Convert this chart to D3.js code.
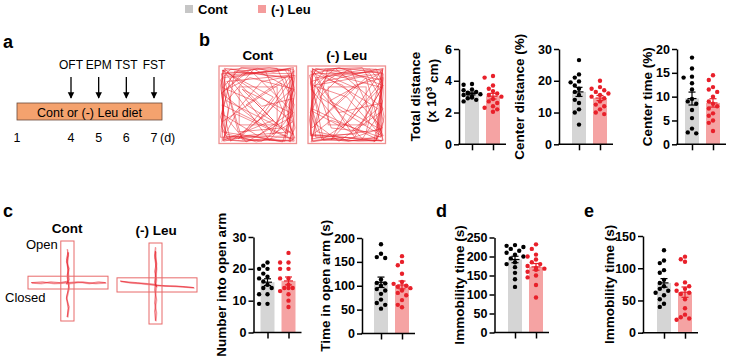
<!DOCTYPE html>
<html>
<head>
<meta charset="utf-8">
<script src="https://cdn.jsdelivr.net/npm/d3@7"></script>
<style>
  body { margin: 0; background: #fff; }
  svg { display: block; font-family: "Liberation Sans", Arial, sans-serif; }
  .axis path, .axis line { stroke: #000; stroke-width: 1.5; }
  .axis text { font-size: 12.5px; font-weight: bold; fill: #000; }
</style>
</head>
<body>
<svg width="730" height="358"></svg>
<script>
// ---- data ----
const groups = ['Cont', '(-) Leu'];
const timelineEvents = ['OFT', 'EPM', 'TST', 'FST'];
const eventDays = [4, 5, 6, 7];
const dayTicks = [1, 4, 5, 6, 7];

const distCont = [3.8, 3.75, 3.45, 3.4, 3.3, 3.25, 3.2, 3.15, 3.1, 3.0, 2.95, 2.9, 2.8, 2.7];
const distLeu = [4.3, 4.2, 3.7, 3.5, 3.35, 3.2, 3.1, 3.0, 2.85, 2.7, 2.6, 2.4, 2.3, 2.2, 2.05];
const cdistCont = [26.5, 22, 21, 19.8, 19.5, 18.5, 17.5, 16.5, 15.5, 14, 13, 11, 10, 6.2];
const cdistLeu = [20, 18, 17.5, 17, 16.5, 16, 15.5, 15, 14.5, 13.5, 12.5, 12, 11, 10, 9.5];
const ctimeCont = [18.2, 15.9, 14.2, 14.0, 12.8, 11.5, 9.5, 9.0, 8.5, 7.2, 5.5, 3.3, 2.5, 2.3];
const ctimeLeu = [14.5, 13.5, 12, 11.5, 11, 10, 9, 8.5, 8, 7.5, 6.5, 6, 5, 4.5, 2.8];
const entriesCont = [22, 21, 20, 20, 18.5, 17.5, 17, 16, 15, 14, 14, 12, 12, 9, 9];
const entriesLeu = [25, 22, 22, 20, 20, 17, 17, 15, 14, 14, 14, 13, 12, 10, 8];
const openTimeCont = [187, 167, 160, 158, 113, 106, 105, 100, 93, 90, 83, 71, 64, 60, 52];
const openTimeLeu = [162, 150, 143, 125, 108, 104, 100, 98, 95, 90, 85, 80, 70, 60, 55];
const tstCont = [230, 228, 225, 220, 215, 210, 205, 200, 195, 185, 180, 172, 157, 140, 120];
const tstLeu = [232, 220, 205, 200, 192, 185, 180, 175, 170, 168, 165, 160, 150, 145, 125, 92];
const fstCont = [128, 112, 108, 97, 93, 82, 77, 72, 68, 65, 62, 58, 52, 45, 40];
const fstLeu = [118, 114, 110, 78, 75, 72, 68, 65, 62, 60, 52, 38, 28, 24, 22, 20];

// open field tracks (fraction of arena)
const ofTrackCont = [
  [0.04,0.06],[0.30,0.03],[0.62,0.05],[0.96,0.04],[0.95,0.30],[0.97,0.62],[0.95,0.96],[0.60,0.95],[0.30,0.97],[0.04,0.95],[0.06,0.60],[0.03,0.30],[0.05,0.05],
  [0.70,0.88],[0.96,0.20],[0.85,0.05],[0.30,0.10],[0.04,0.35],[0.08,0.90],[0.55,0.97],[0.95,0.72],[0.42,0.30],[0.10,0.08],[0.94,0.10],[0.92,0.94],[0.22,0.62],
  [0.05,0.94],[0.88,0.90],[0.96,0.42],[0.55,0.52],[0.08,0.04],[0.04,0.72],[0.80,0.22],[0.97,0.97],[0.30,0.95],[0.06,0.15],[0.60,0.07],[0.96,0.88],[0.10,0.45],
  [0.45,0.04],[0.94,0.30],[0.25,0.94],[0.70,0.40],[0.05,0.06],[0.04,0.85],[0.85,0.97],[0.97,0.06],[0.50,0.72],[0.03,0.35],[0.40,0.05],[0.96,0.60],[0.65,0.96],
  [0.10,0.20],[0.90,0.12],[0.35,0.50],[0.92,0.85],[0.07,0.92],[0.20,0.07],[0.95,0.15],[0.62,0.62],[0.15,0.97],[0.04,0.50],[0.96,0.95],[0.80,0.97],[0.55,0.94],
  [0.35,0.97],[0.12,0.95],[0.03,0.78],[0.06,0.55],[0.02,0.25],[0.07,0.03],[0.35,0.06],[0.65,0.02],[0.92,0.06],[0.98,0.35],[0.94,0.55],[0.98,0.80],[0.90,0.97],
  [0.92,0.98],[0.96,0.75],[0.90,0.50],[0.97,0.28],[0.92,0.03],[0.70,0.08],[0.50,0.03],[0.20,0.09],[0.03,0.10],[0.09,0.40],[0.02,0.66],[0.10,0.88],[0.30,0.92],
  [0.48,0.98],[0.75,0.92],[0.98,0.93],[0.88,0.70],[0.93,0.40],[0.85,0.15],[0.60,0.12],[0.15,0.04],[0.02,0.18],[0.12,0.55],[0.06,0.97],[0.40,0.90],[0.82,0.98],
  [0.97,0.50],[0.75,0.03],[0.28,0.02],[0.05,0.28],[0.45,0.45],[0.88,0.88],[0.98,0.12],[0.55,0.20],[0.12,0.70],[0.35,0.98],[0.95,0.65],[0.90,0.05],[0.08,0.12],
  [0.02,0.92],[0.65,0.90],[0.97,0.30],[0.40,0.15],[0.10,0.30],[0.25,0.85],[0.80,0.80],[0.96,0.02],[0.15,0.15],[0.04,0.62],[0.50,0.90],[0.92,0.60],[0.30,0.30],
  [0.70,0.70],[0.03,0.97]
];
const ofTrackLeu = [
  [0.05,0.04],[0.35,0.06],[0.70,0.03],[0.96,0.05],[0.97,0.35],[0.94,0.70],[0.96,0.96],[0.65,0.97],[0.35,0.94],[0.05,0.96],[0.03,0.65],[0.06,0.35],[0.04,0.06],
  [0.60,0.92],[0.97,0.25],[0.80,0.04],[0.25,0.12],[0.05,0.45],[0.10,0.92],[0.50,0.95],[0.96,0.80],[0.45,0.25],[0.08,0.10],[0.95,0.08],[0.94,0.92],[0.30,0.70],
  [0.04,0.90],[0.90,0.94],[0.95,0.48],[0.40,0.60],[0.06,0.05],[0.05,0.80],[0.75,0.15],[0.97,0.96],[0.20,0.96],[0.04,0.20],[0.55,0.05],[0.95,0.90],[0.15,0.40],
  [0.50,0.06],[0.96,0.25],[0.30,0.95],[0.65,0.30],[0.06,0.04],[0.03,0.88],[0.88,0.96],[0.96,0.04],[0.45,0.80],[0.04,0.30],[0.35,0.03],[0.97,0.55],[0.70,0.94],
  [0.08,0.25],[0.92,0.10],[0.28,0.45],[0.94,0.82],[0.05,0.94],[0.25,0.05],[0.96,0.18],[0.55,0.70],[0.18,0.95],[0.05,0.55],[0.95,0.97],[0.75,0.95],[0.50,0.97],
  [0.25,0.94],[0.06,0.97],[0.02,0.70],[0.06,0.48],[0.03,0.15],[0.12,0.04],[0.45,0.03],[0.75,0.06],[0.97,0.10],[0.94,0.45],[0.98,0.65],[0.95,0.85],[0.85,0.98],
  [0.88,0.96],[0.97,0.72],[0.92,0.45],[0.96,0.22],[0.88,0.04],[0.62,0.10],[0.40,0.02],[0.15,0.08],[0.02,0.12],[0.08,0.35],[0.03,0.60],[0.12,0.85],[0.35,0.90],
  [0.52,0.97],[0.80,0.93],[0.97,0.90],[0.85,0.65],[0.95,0.35],[0.80,0.10],[0.55,0.15],[0.10,0.03],[0.03,0.22],[0.15,0.60],[0.04,0.98],[0.45,0.92],[0.85,0.97],
  [0.96,0.45],[0.70,0.02],[0.22,0.04],[0.06,0.25],[0.50,0.40],[0.90,0.85],[0.97,0.15],[0.60,0.25],[0.10,0.75],[0.40,0.97],[0.93,0.60],[0.94,0.06],[0.10,0.15],
  [0.03,0.90],[0.60,0.88],[0.96,0.28],[0.35,0.12],[0.12,0.28],[0.30,0.80],[0.75,0.85],[0.97,0.03],[0.20,0.20],[0.05,0.58],[0.55,0.85],[0.90,0.55],[0.05,0.03]
];
// elevated plus maze tracks (fraction of the cross box)
const epmTrackCont = [
  [0.49,0.10],[0.50,0.18],[0.48,0.26],[0.51,0.34],[0.49,0.42],[0.50,0.50],[0.40,0.52],[0.28,0.51],[0.16,0.53],[0.04,0.52],[0.18,0.51],[0.32,0.53],
  [0.49,0.52],[0.62,0.51],[0.76,0.53],[0.88,0.51],[0.97,0.52],[0.84,0.53],[0.68,0.51],[0.51,0.53],[0.50,0.62],[0.48,0.72],[0.51,0.82],[0.49,0.95],
  [0.50,0.84],[0.48,0.70],[0.51,0.58],[0.49,0.46],[0.50,0.36],[0.48,0.22],[0.50,0.14],[0.49,0.30],[0.51,0.48],[0.48,0.54],[0.50,0.50]
];
const epmTrackLeu = [
  [0.48,0.05],[0.47,0.15],[0.49,0.25],[0.47,0.35],[0.49,0.45],[0.48,0.51],[0.38,0.50],[0.26,0.49],[0.14,0.48],[0.04,0.47],[0.16,0.49],[0.30,0.50],
  [0.48,0.52],[0.60,0.53],[0.74,0.53],[0.86,0.54],[0.96,0.55],[0.82,0.54],[0.66,0.53],[0.49,0.52],[0.48,0.62],[0.47,0.74],[0.49,0.86],[0.48,0.96],
  [0.47,0.84],[0.49,0.70],[0.47,0.58],[0.48,0.46],[0.49,0.32],[0.47,0.18],[0.48,0.10],[0.49,0.30],[0.47,0.48],[0.49,0.54],[0.48,0.50]
];

// ---- styles ----
const barColors = ['#D5D5D5', '#F5A3A3'];
const dotColors = ['#000000', '#E8202A'];
const legendColors = ['#C6C6C6', '#F49C9C'];
const trackRed = '#E8202A';

const svg = d3.select('svg');
svg.append('rect').attr('width', 730).attr('height', 358).attr('fill', '#fff');

// legend
const legend = svg.append('g').attr('font-family', '"Liberation Sans Narrow", "Liberation Sans", Arial')
  .attr('font-weight', 'bold').attr('font-size', 13);
[185, 258].forEach((lx, i) => {
  legend.append('rect').attr('x', lx).attr('y', 5).attr('width', 8).attr('height', 8).attr('fill', legendColors[i]);
  legend.append('text').attr('x', lx + 13).attr('y', 13.5).text(groups[i]);
});

// panel letters
[['a', 3, 48], ['b', 199, 46], ['c', 3, 217], ['d', 436, 217], ['e', 584, 217]].forEach(([t, x, y]) =>
  svg.append('text').attr('x', x).attr('y', y).attr('font-size', 18).attr('font-weight', 'bold').text(t));

// ---- panel a: timeline ----
const xDay = d3.scaleLinear().domain([1, 4, 7]).range([17, 71, 154]);
const pa = svg.append('g').attr('font-size', 12);
svg.append('defs').append('marker')
  .attr('id', 'arrow').attr('viewBox', '0 0 10 10').attr('refX', 9).attr('refY', 5)
  .attr('markerWidth', 5).attr('markerHeight', 6).attr('orient', 'auto')
  .append('path').attr('d', 'M0,0L10,5L0,10Z').attr('fill', '#000');
timelineEvents.forEach((ev, i) => {
  const x = xDay(eventDays[i]);
  pa.append('text').attr('x', x).attr('y', 69).attr('text-anchor', 'middle').text(ev);
  pa.append('line').attr('x1', x).attr('x2', x).attr('y1', 77).attr('y2', 98)
    .attr('stroke', '#000').attr('stroke-width', 1.3).attr('marker-end', 'url(#arrow)');
});
pa.append('rect').attr('x', xDay(1)).attr('y', 103).attr('width', xDay(7) + 8 - xDay(1)).attr('height', 17)
  .attr('fill', '#F4A26E').attr('stroke', '#6b4a3a').attr('stroke-width', 0.8);
pa.append('text').attr('x', (xDay(1) + xDay(7) + 8) / 2).attr('y', 116.5).attr('text-anchor', 'middle')
  .attr('font-size', 12.5).text('Cont or (-) Leu diet');
dayTicks.forEach(d => pa.append('text').attr('x', xDay(d)).attr('y', 141.5).attr('text-anchor', 'middle')
  .attr('font-size', 12.5).text(d));
pa.append('text').attr('x', xDay(7) + 6).attr('y', 141.5).attr('font-size', 12.5).text('(d)');

// ---- panel b: open field tracks ----
function drawArena(x0, y0, size, track, title) {
  const sx = d3.scaleLinear().domain([0, 1]).range([x0, x0 + size]);
  const sy = d3.scaleLinear().domain([0, 1]).range([y0, y0 + size]);
  const g = svg.append('g');
  g.append('text').attr('x', sx(0.5)).attr('y', y0 - 6).attr('text-anchor', 'middle')
    .attr('font-weight', 'bold').attr('font-size', 13.5).text(title);
  g.append('path').datum(track).attr('fill', 'none').attr('stroke', trackRed)
    .attr('stroke-width', 0.6).attr('stroke-opacity', 0.85)
    .attr('d', d3.line().x(d => sx(d[0])).y(d => sy(d[1])));
  g.append('rect').attr('x', sx(0.26)).attr('y', sy(0.27)).attr('width', sx(0.75) - sx(0.26)).attr('height', sy(0.76) - sy(0.27))
    .attr('fill', 'none').attr('stroke', trackRed).attr('stroke-opacity', 0.6).attr('stroke-width', 0.8);
  g.append('rect').attr('x', x0).attr('y', y0).attr('width', size).attr('height', size)
    .attr('fill', 'none').attr('stroke', '#EE9090').attr('stroke-width', 1.3);
}
drawArena(219, 66, 77.5, ofTrackCont, 'Cont');
drawArena(308, 66, 77.5, ofTrackLeu, '(-) Leu');

// ---- panel c: plus maze ----
function drawMaze(x0, y0, w, h, vArm, hArm, track, title) {
  const sx = d3.scaleLinear().domain([0, 1]).range([x0, x0 + w]);
  const sy = d3.scaleLinear().domain([0, 1]).range([y0, y0 + h]);
  const g = svg.append('g');
  g.append('text').attr('x', sx(0.49)).attr('y', y0 - 8).attr('text-anchor', 'middle')
    .attr('font-weight', 'bold').attr('font-size', 13.5).text(title);
  const line = d3.line().x(d => sx(d[0])).y(d => sy(d[1]));
  g.append('path').datum(track).attr('fill', 'none').attr('stroke', trackRed)
    .attr('stroke-width', 0.9).attr('stroke-opacity', 0.6).attr('d', line);
  g.append('path').datum(track).attr('fill', 'none').attr('stroke', trackRed)
    .attr('stroke-width', 0.5).attr('stroke-opacity', 0.6).attr('d', line)
    .attr('transform', 'translate(0.7,0.6)');
  g.append('rect').attr('x', sx(vArm[0])).attr('y', y0).attr('width', sx(vArm[1]) - sx(vArm[0])).attr('height', h)
    .attr('fill', 'none').attr('stroke', '#E86A6A').attr('stroke-width', 1);
  g.append('rect').attr('x', x0).attr('y', sy(hArm[0])).attr('width', w).attr('height', sy(hArm[1]) - sy(hArm[0]))
    .attr('fill', 'none').attr('stroke', '#E86A6A').attr('stroke-width', 1);
}
drawMaze(28, 241, 80, 80, [0.41, 0.575], [0.44, 0.6], epmTrackCont, 'Cont');
drawMaze(117, 243, 80, 81, [0.4, 0.5625], [0.43, 0.605], epmTrackLeu, '(-) Leu');
svg.append('text').attr('x', 26).attr('y', 249).attr('font-size', 13).text('Open');
svg.append('text').attr('x', 5).attr('y', 302).attr('font-size', 13).text('Closed');

// ---- bar charts ----
const charts = [
  { values: [distCont, distLeu], max: 6, ticks: [0, 2, 4, 6], ax: 459, c0: 472, top: 49, bottom: 144.3,
    labelX: [415, 431.5], label: ['Total distance', null] },
  { values: [cdistCont, cdistLeu], max: 30, ticks: [0, 10, 20, 30], ax: 559, c0: 579, top: 49, bottom: 144.3,
    labelX: [519], label: ['Center distance (%)'] },
  { values: [ctimeCont, ctimeLeu], max: 20, ticks: [0, 5, 10, 15, 20], ax: 677, c0: 692, top: 49, bottom: 144.3,
    labelX: [647], label: ['Center time (%)'] },
  { values: [entriesCont, entriesLeu], max: 30, ticks: [0, 10, 20, 30], ax: 253.5, c0: 267.5, top: 237, bottom: 332.5,
    labelX: [221.5], label: ['Number into open arm'] },
  { values: [openTimeCont, openTimeLeu], max: 200, ticks: [0, 50, 100, 150, 200], ax: 362, c0: 381, top: 238, bottom: 333.5,
    labelX: [325], label: ['Time in open arm (s)'] },
  { values: [tstCont, tstLeu], max: 250, ticks: [0, 50, 100, 150, 200, 250], ax: 494.5, c0: 515, top: 237.5, bottom: 332.5,
    labelX: [459.5], label: ['Immobility time (s)'] },
  { values: [fstCont, fstLeu], max: 150, ticks: [0, 50, 100, 150], ax: 643, c0: 664, top: 236, bottom: 332.7,
    labelX: [609.5], label: ['Immobility time (s)'] }
];

function swarm(vals, cx, y) {
  const placed = [];
  const steps = [0, -1, 1, -2, 2];
  vals.slice().sort((a, b) => b - a).forEach((v, k) => {
    const py = y(v);
    let px = null;
    for (const s of steps) {
      const tx = cx + s * 4.2;
      if (placed.every(p => Math.hypot(p.x - tx, p.y - py) >= 4.8)) { px = tx; break; }
    }
    if (px == null) px = cx + steps[k % steps.length] * 4.2;
    placed.push({ x: px, y: py });
  });
  return placed;
}

charts.forEach(cfg => {
  const y = d3.scaleLinear().domain([0, cfg.max]).range([cfg.bottom, cfg.top]);
  const x = d3.scalePoint().domain(groups).range([cfg.c0, cfg.c0 + 21]);
  const g = svg.append('g');

  groups.forEach((grp, i) => {
    const vals = cfg.values[i];
    const mean = d3.mean(vals);
    const sem = d3.deviation(vals) / Math.sqrt(vals.length);
    g.append('rect').attr('x', x(grp) - 7).attr('width', 14)
      .attr('y', y(mean)).attr('height', y(0) - y(mean)).attr('fill', barColors[i]);
    g.selectAll(null).data(swarm(vals, x(grp), y)).join('circle')
      .attr('cx', d => d.x).attr('cy', d => d.y).attr('r', 2.2).attr('fill', dotColors[i]);
    const eb = g.append('g').attr('stroke', dotColors[i]).attr('stroke-width', 1.2);
    eb.append('line').attr('x1', x(grp)).attr('x2', x(grp)).attr('y1', y(mean - sem)).attr('y2', y(mean + sem));
    [mean - sem, mean, mean + sem].forEach((v, k) => eb.append('line')
      .attr('x1', x(grp) - (k === 1 ? 4.5 : 3.5)).attr('x2', x(grp) + (k === 1 ? 4.5 : 3.5))
      .attr('y1', y(v)).attr('y2', y(v)));
  });

  g.append('g').attr('class', 'axis').attr('transform', `translate(${cfg.ax},0)`)
    .call(d3.axisLeft(y).tickValues(cfg.ticks).tickFormat(d3.format('d')).tickSize(5).tickSizeOuter(0).tickPadding(2));
  g.append('g').attr('class', 'axis').attr('transform', `translate(0,${cfg.bottom})`)
    .call(d3.axisBottom(x).tickSize(6).tickFormat(''))
    .call(a => a.select('.domain').attr('d', `M${cfg.ax - 0.75},0H${x(groups[1]) + 13}`));

  const midY = (cfg.top + cfg.bottom) / 2;
  const lab = g.append('g').attr('font-weight', 'bold').attr('font-size', 13.5);
  lab.append('text').attr('transform', `translate(${cfg.labelX[0]},${midY}) rotate(-90)`)
    .attr('text-anchor', 'middle').attr('dy', '0.35em').text(cfg.label[0]);
  if (cfg.labelX.length > 1) {
    const t = lab.append('text').attr('transform', `translate(${cfg.labelX[1]},${midY - 6}) rotate(-90)`)
      .attr('text-anchor', 'middle').attr('dy', '0.35em');
    t.append('tspan').text('(x 10');
    t.append('tspan').attr('dy', '-0.45em').attr('font-size', 9).text('3');
    t.append('tspan').attr('dy', '0.45em').text(' cm)');
  }
});
</script>
</body>
</html>
